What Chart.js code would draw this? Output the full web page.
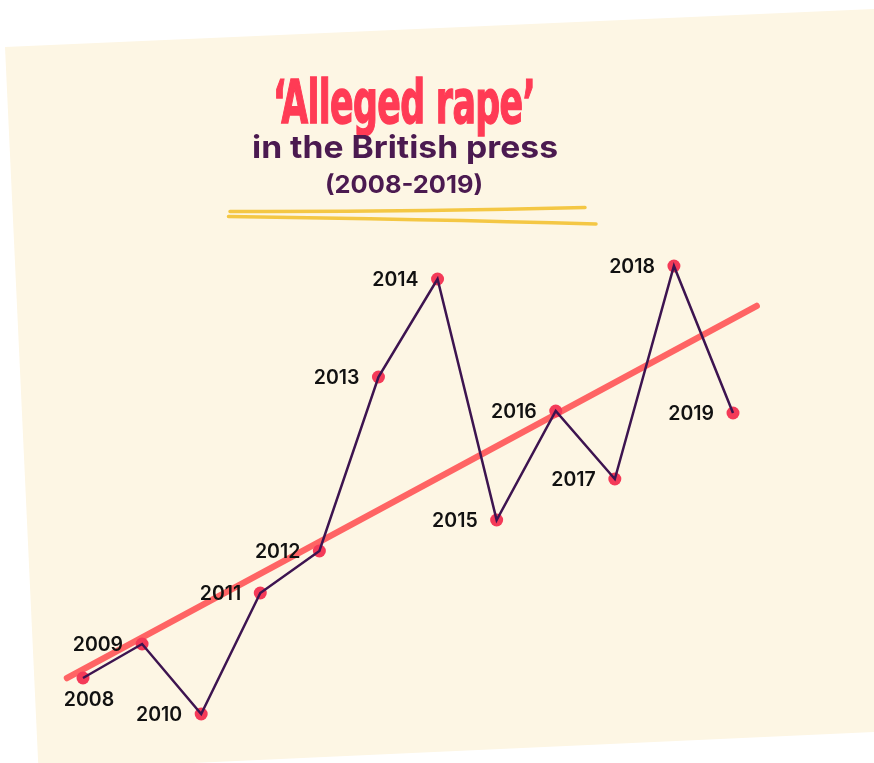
<!DOCTYPE html>
<html><head><meta charset="utf-8">
<script src="https://cdn.jsdelivr.net/npm/chart.js@4.4.1/dist/chart.umd.min.js"></script>
<style>
html,body{margin:0;padding:0;background:#fff;}
#wrap{position:relative;width:874px;height:763px;overflow:hidden;}
canvas{position:absolute;left:0;top:0;}
.t{position:absolute;left:0;top:0;white-space:nowrap;transform-origin:0 0;line-height:normal;}
#t1{font-family:"DejaVu Sans Condensed","DejaVu Sans",sans-serif;font-weight:700;color:#FF3B55;font-size:61px;-webkit-text-stroke:1.4px #FF3B55;letter-spacing:-1px;}
#t2{font-family:Inter,sans-serif;font-weight:700;color:#4B1A50;font-size:31px;}
#t3{font-family:Inter,sans-serif;font-weight:700;color:#4B1A50;font-size:24px;}
</style></head>
<body>
<div id="wrap">
<canvas id="c" width="874" height="763"></canvas>
<div class="t" id="t1">‘Alleged rape’</div>
<div class="t" id="t2">in the British press</div>
<div class="t" id="t3">(2008-2019)</div>
</div>
<script>
// ---- data ----
const years = ['2008','2009','2010','2011','2012','2013','2014','2015','2016','2017','2018','2019'];
const mentions = [62, 96, 26, 147, 189, 363, 461, 220, 329, 261, 474, 327];
const trendX = [-0.27, 11.4];
const trendY = [62, 434];

const seriesPts = mentions.map((v, i) => ({x: i, y: v}));
const trendPts = trendX.map((x, i) => ({x: x, y: trendY[i]}));

const bgPlugin = {
  id: 'bg',
  beforeDraw(chart) {
    const ctx = chart.ctx;
    ctx.save();
    ctx.fillStyle = '#FDF6E4';
    ctx.beginPath();
    ctx.moveTo(5, 47);
    ctx.lineTo(885, 8.5);
    ctx.lineTo(885, 731.5);
    ctx.lineTo(38.5, 770);
    ctx.closePath();
    ctx.fill();
    // yellow double underline
    ctx.strokeStyle = '#F4C744';
    ctx.lineWidth = 3.5;
    ctx.lineCap = 'round';
    ctx.beginPath();
    ctx.moveTo(230, 211.5);
    ctx.quadraticCurveTo(410, 212, 585, 207.5);
    ctx.stroke();
    ctx.beginPath();
    ctx.moveTo(228.5, 216.5);
    ctx.quadraticCurveTo(420, 219, 596, 224);
    ctx.stroke();
    ctx.restore();
  }
};

const labelPlugin = {
  id: 'yearLabels',
  afterDatasetsDraw(chart) {
    const ctx = chart.ctx;
    const meta = chart.getDatasetMeta(1);
    ctx.save();
    ctx.font = '600 19.5px Inter, sans-serif';
    ctx.fillStyle = '#111111';
    ctx.textBaseline = 'middle';
    meta.data.forEach((el, i) => {
      if (i === 0) {
        ctx.textAlign = 'center';
        ctx.fillText(years[i], el.x + 6, el.y + 22);
      } else {
        ctx.textAlign = 'right';
        ctx.fillText(years[i], el.x - 19, el.y + 1);
      }
    });
    ctx.restore();
  }
};

new Chart(document.getElementById('c'), {
  type: 'scatter',
  data: {
    labels: years,
    datasets: [
      {
        data: seriesPts, showLine: true, borderColor: '#3D1450', borderWidth: 2.5,
        pointRadius: 0, tension: 0, order: 0, fill: false
      },
      {
        data: seriesPts, showLine: false, pointRadius: 6.5, pointBackgroundColor: '#F43A58',
        pointBorderWidth: 0, borderWidth: 0, order: 1
      },
      {
        data: trendPts, showLine: true, borderColor: '#FF6464', borderWidth: 6.5,
        borderCapStyle: 'round', pointRadius: 0, order: 2, fill: false
      }
    ]
  },
  options: {
    responsive: false,
    devicePixelRatio: 1,
    animation: false,
    layout: {padding: 0, autoPadding: false},
    plugins: {legend: {display: false}, tooltip: {enabled: false}},
    scales: {
      x: {type: 'linear', display: false, min: -1.4046, max: 13.386},
      y: {type: 'linear', display: false, min: -23, max: 740}
    }
  },
  plugins: [bgPlugin, labelPlugin]
});

function fit(id, cx, baseline, width) {
  const el = document.getElementById(id);
  const mark = document.createElement('span');
  mark.style.cssText = 'display:inline-block;width:0;height:0;vertical-align:baseline;';
  el.appendChild(mark);
  const w = el.getBoundingClientRect().width;
  const b = mark.offsetTop;
  const sx = width / w;
  el.style.left = (cx - width / 2) + 'px';
  el.style.top = (baseline - b) + 'px';
  el.style.transform = 'scaleX(' + sx + ')';
}
fit('t1', 404, 123, 262);
fit('t2', 405, 158, 306);
fit('t3', 404, 193, 158);
</script>
</body></html>
